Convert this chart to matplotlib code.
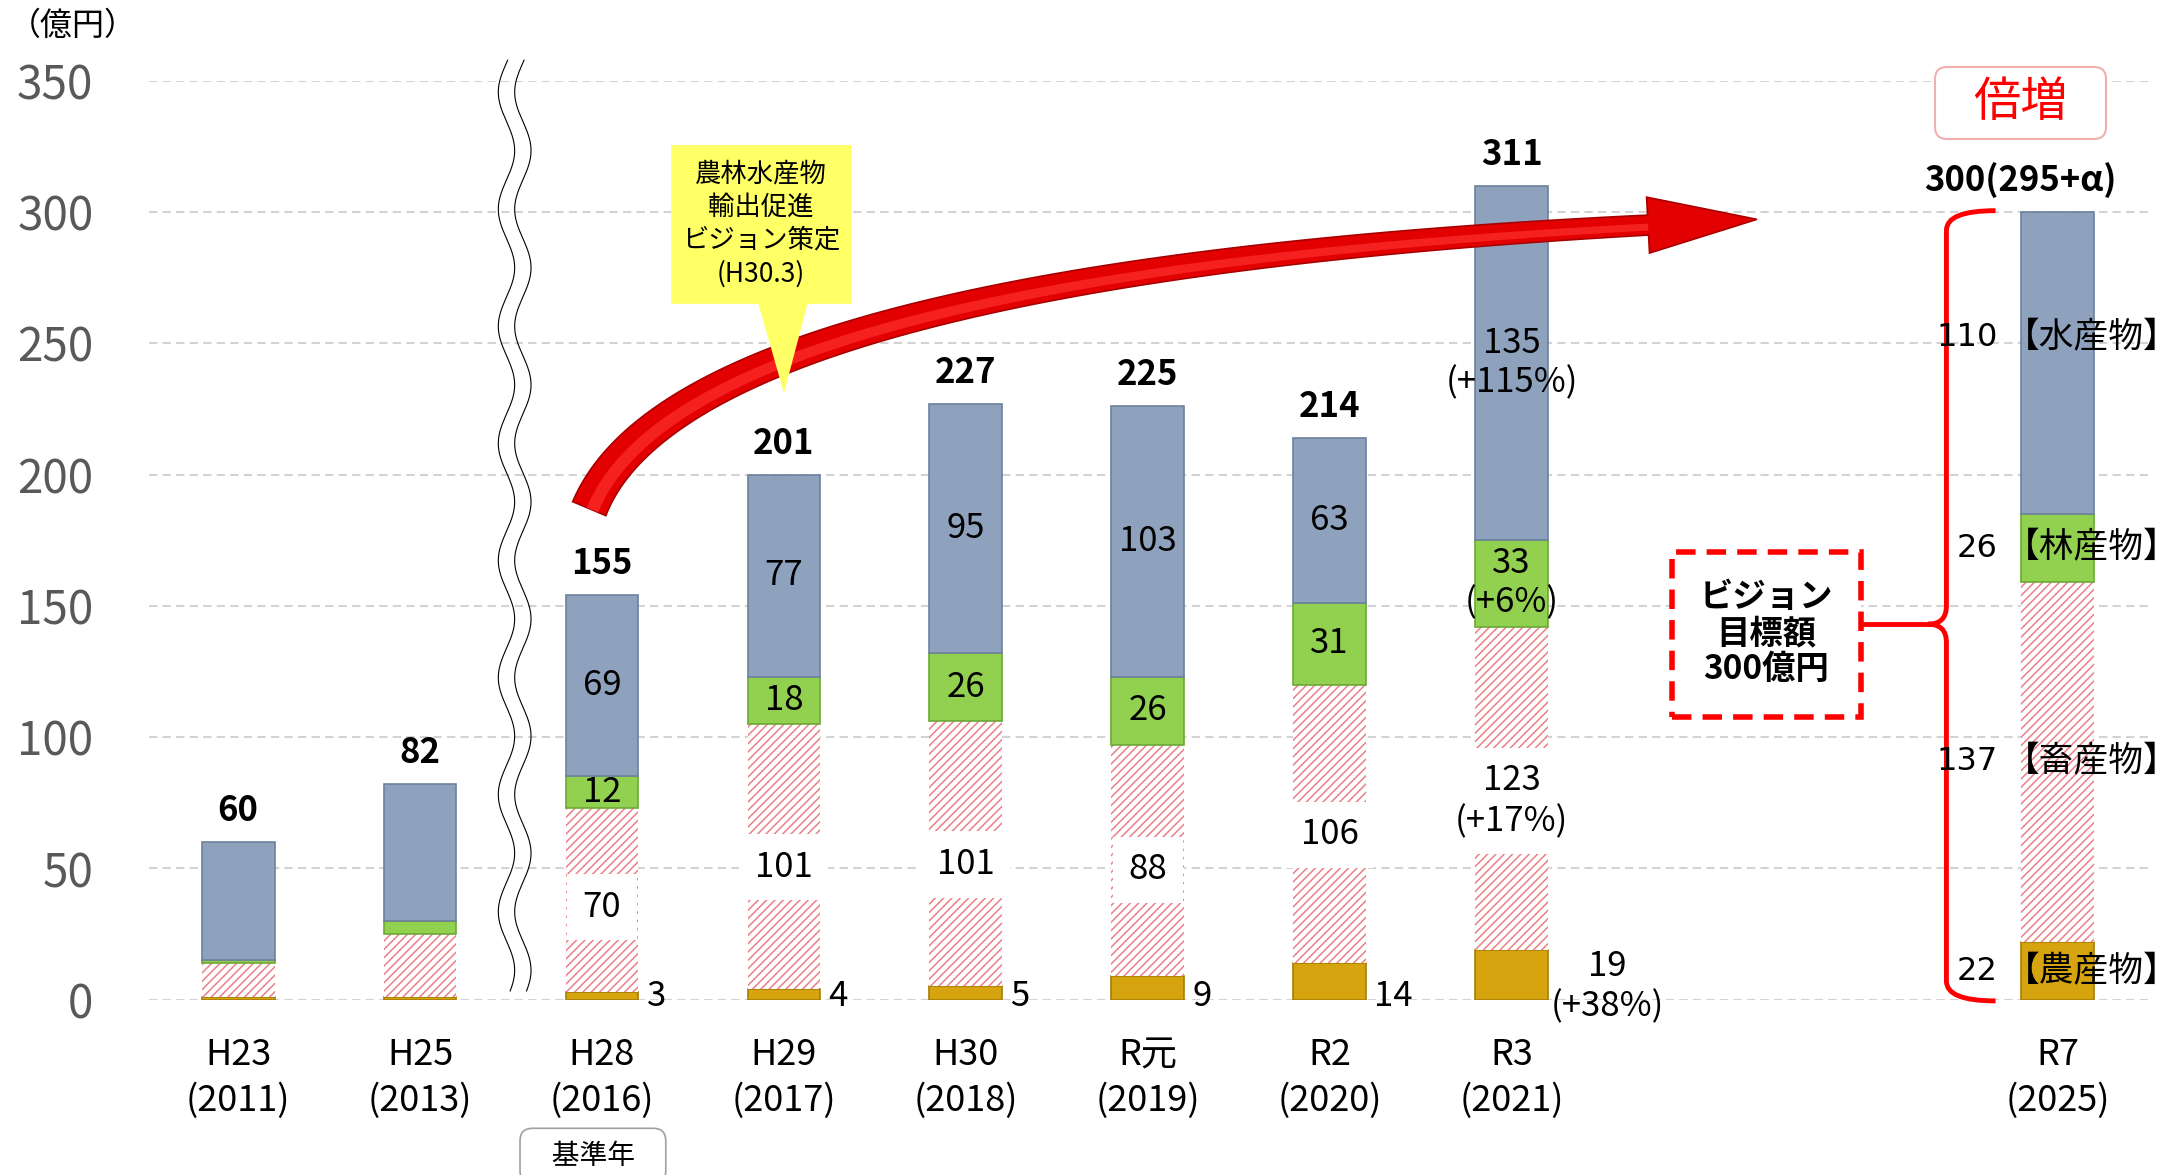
import numpy as np
import matplotlib.pyplot as plt
from matplotlib.path import Path
from matplotlib.patches import Polygon, Rectangle, FancyBboxPatch, PathPatch
from matplotlib.transforms import IdentityTransform

plt.rcParams['font.family'] = ['Noto Sans CJK JP', 'DejaVu Sans']
plt.rcParams['hatch.linewidth'] = 1.1

periods = ["H23", "H25", "H28", "H29", "H30", "R元", "R2", "R3", "R7"]
years = ["(2011)", "(2013)", "(2016)", "(2017)", "(2018)", "(2019)", "(2020)", "(2021)", "(2025)"]

# 億円, bottom to top
agri = [1, 1, 3, 4, 5, 9, 14, 19, 22]
livestock = [13, 24, 70, 101, 101, 88, 106, 123, 137]
forest = [1, 5, 12, 18, 26, 26, 31, 33, 26]
fish = [45, 52, 69, 77, 95, 103, 63, 135, 110]
alpha = [0, 0, 0, 0, 0, 0, 0, 0, 5]
totals = ["60", "82", "155", "201", "227", "225", "214", "311", "300(295+α)"]

growth_r3 = {"agri": "(+38%)", "livestock": "(+17%)", "forest": "(+6%)", "fish": "(+115%)"}
target_names = ["【農産物】", "【畜産物】", "【林産物】", "【水産物】"]

c_fish, c_fish_e = "#8EA1BD", "#6E819C"
c_forest, c_forest_e = "#92D050", "#6DA836"
c_agri, c_agri_e = "#D6A40E", "#A77E06"
c_hatch = "#EA7F86"

fig = plt.figure(figsize=(21.83, 11.75), dpi=100)
ax = fig.add_axes([149 / 2183, 1 - 999.6 / 1175, (2152 - 149) / 2183, (999.6 - 80.7) / 1175])

x = np.r_[np.arange(8), 10]
w = 0.40
agri = np.array(agri)
livestock = np.array(livestock)
forest = np.array(forest)
fish = np.array(fish)
alpha = np.array(alpha)

b1 = agri
b2 = b1 + livestock
b3 = b2 + forest
b4 = b3 + fish

ax.bar(x, agri, w, color=c_agri, edgecolor=c_agri_e, lw=1.2, zorder=3)
ax.bar(x, livestock, w, bottom=b1, color="white", edgecolor=c_hatch, hatch="////", lw=0, zorder=3)
ax.bar(x, forest, w, bottom=b2, color=c_forest, edgecolor=c_forest_e, lw=1.2, zorder=3)
ax.bar(x, fish + alpha, w, bottom=b3, color=c_fish, edgecolor=c_fish_e, lw=1.2, zorder=3)

ax.set_xlim(-0.49, 10.52)
ax.set_ylim(0, 350)
ax.set_yticks(range(0, 351, 50))
ax.tick_params(axis="y", length=0, pad=40, labelsize=33, labelcolor="#595959")
ax.set_xticks(x, [f"{p}\n{y}" for p, y in zip(periods, years)])
ax.tick_params(axis="x", length=0, pad=27, labelsize=26)
for lbl in ax.get_xticklabels():
    lbl.set_linespacing(1.35)
ax.yaxis.grid(True, color="#D3D3D3", lw=1.5, ls=(0, (4, 2.5)))
ax.set_axisbelow(True)
for s in ax.spines.values():
    s.set_visible(False)

# totals
for i in range(9):
    top = b4[i] + alpha[i]
    dx = -27 if i == 8 else 0
    ax.annotate(totals[i], (x[i], top), xytext=(dx, 10), textcoords="offset points",
                ha="center", va="bottom", fontsize=25, fontweight="bold", zorder=8)

# segment labels
fs = 25
for i in range(2, 8):
    fl = str(fish[i]) + ("\n" + growth_r3["fish"] if i == 7 else "")
    ax.text(x[i], b3[i] + fish[i] / 2, fl, ha="center", va="center", fontsize=fs, zorder=6,
            linespacing=1.15)
    fo = str(forest[i]) + ("\n" + growth_r3["forest"] if i == 7 else "")
    ax.text(x[i], b2[i] + forest[i] / 2, fo, ha="center", va="center", fontsize=fs, zorder=6,
            linespacing=1.15)
    lv = str(livestock[i]) + ("\n" + growth_r3["livestock"] if i == 7 else "")
    ax.text(x[i], b1[i] + livestock[i] * 0.46, lv, ha="center", va="center", fontsize=fs, zorder=6,
            linespacing=1.2, bbox=dict(boxstyle="square,pad=0.45", fc="white", ec="none"))
    if i == 7:
        ax.annotate(str(agri[i]) + "\n" + growth_r3["agri"], (x[i] + w / 2, 5), xytext=(43, 0),
                    textcoords="offset points", ha="center", va="center", fontsize=fs,
                    linespacing=1.2, zorder=6)
    else:
        ax.annotate(str(agri[i]), (x[i] + w / 2, 1.0), xytext=(6, 0), textcoords="offset points",
                    ha="left", va="center", fontsize=fs, zorder=6)

# target bar labels
t = 8
for val, bot, name in zip([agri[t], livestock[t], forest[t], fish[t]],
                          [0, b1[t], b2[t], b3[t]], target_names):
    yc = bot + val / 2 if name != "【農産物】" else 10.6
    if name == "【水産物】":
        yc = 252
    ax.text(x[t] - 0.33, yc, str(val), ha="right", va="center", fontsize=23, family="DejaVu Sans", zorder=7)
    ax.text(x[t] - 0.29, yc, name, ha="left", va="center", fontsize=25, zorder=7, clip_on=False)

# wavy break
yy = np.linspace(3.3, 357.8, 500)
for off in (-0.045, 0.045):
    ax.plot(1.52 + off + 0.045 * np.sin(2 * np.pi * yy / 44.6), yy, color="black", lw=0.8,
            clip_on=False, zorder=4)

# red curved arrow (tapered shaft + head), built in pixel space
tt = np.linspace(0, 1, 120)[:, None]
p0, pc, p2 = np.array([1.93, 187]), np.array([2.45, 276]), np.array([7.75, 295])
curve = (1 - tt) ** 2 * p0 + 2 * tt * (1 - tt) * pc + tt ** 2 * p2
pix = ax.transData.transform(curve)
tan = np.gradient(pix, axis=0)
tan /= np.linalg.norm(tan, axis=1)[:, None]
nrm = np.c_[-tan[:, 1], tan[:, 0]]
half = (18 - 8 * tt)
left = pix + nrm * half
right = pix - nrm * half
d, n = tan[-1], nrm[-1]
base = pix[-1]
head = [base + n * 28, base + d * 109, base - n * 28]
outline = np.vstack([left, head, right[::-1]])
fig.add_artist(Polygon(outline, closed=True, fc="#E30000", ec="#A80000", lw=1.2,
                       transform=IdentityTransform(), zorder=5))
fig.add_artist(Polygon(np.vstack([pix + nrm * half * 0.15, (pix - nrm * half * 0.55)[::-1]]),
                       closed=True, fc="#F52020", ec="none", transform=IdentityTransform(), zorder=5))

# yellow callout (drawn above the arrow)
callout = Polygon([(2.38, 265), (2.86, 265), (3.0, 231), (3.13, 265), (3.37, 265),
                   (3.37, 325.5), (2.38, 325.5)], closed=True, fc="#FFFF66", ec="none", zorder=6)
callout.set_transform(ax.transData)
fig.add_artist(callout)
fig.text(2.875, 295.5, "農林水産物\n輸出促進\nビジョン策定\n(H30.3)", transform=ax.transData,
         ha="center", va="center", fontsize=19, linespacing=1.3, zorder=7)

# red brace
bx, hx = 9.39, 9.66
brace = Path([(hx, 300.5), (bx, 300.5), (bx, 293), (bx, 150), (bx, 143), (bx - 0.1, 143),
              (bx, 143), (bx, 136), (bx, 7), (bx, -0.5), (hx, -0.5)],
             [Path.MOVETO, Path.CURVE3, Path.CURVE3, Path.LINETO, Path.CURVE3, Path.CURVE3,
              Path.CURVE3, Path.CURVE3, Path.LINETO, Path.CURVE3, Path.CURVE3])
ax.add_patch(PathPatch(brace, fc="none", ec="#FF0000", lw=3.5, zorder=6, clip_on=False))
ax.plot([8.92, bx - 0.1], [143, 143], color="#FF0000", lw=3.5, zorder=6)

# dashed target box
ax.add_patch(Rectangle((7.88, 107.6), 1.04, 63, fc="white", ec="#FF0000", lw=4,
                       ls=(0, (3.5, 2)), zorder=6))
ax.text(8.40, 139.4, "ビジョン\n目標額\n300億円", ha="center", va="center", fontsize=24,
        fontweight="bold", linespacing=1.12, zorder=7)

# 倍増 box
fig.add_artist(FancyBboxPatch((19.35, 10.36), 1.71, 0.72, boxstyle="round,pad=0,rounding_size=0.12",
                              transform=fig.dpi_scale_trans, fc="white", ec="#F2AFAF", lw=1.5))
fig.text(20.205, 10.72, "倍増", transform=fig.dpi_scale_trans, ha="center", va="center",
         fontsize=34, color="#FF0000")

# 基準年
ax.text(x[2] - 0.05, -59.5, "   基準年   ", ha="center", va="center", fontsize=20, clip_on=False,
        bbox=dict(boxstyle="round,pad=0.45", fc="white", ec="#A0A0A0", lw=1.2))

fig.text(0.004, 1 - 26 / 1175, "（億円）", ha="left", va="center", fontsize=23)

fig.savefig("out.png", dpi=100)
